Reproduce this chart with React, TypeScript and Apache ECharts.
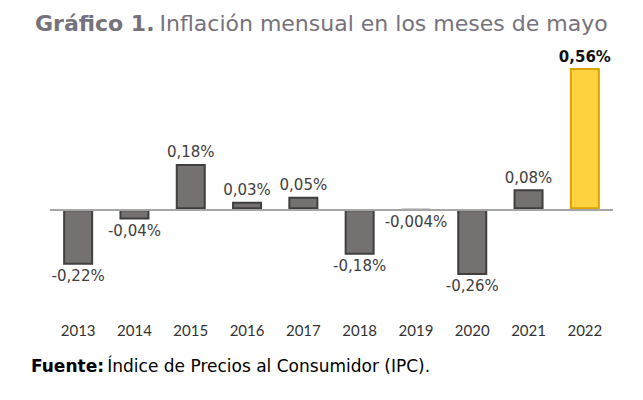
import React, { useEffect, useRef } from "react";
import * as echarts from "echarts";

const years = ["2013", "2014", "2015", "2016", "2017", "2018", "2019", "2020", "2021", "2022"];
const values = [-0.22, -0.04, 0.18, 0.03, 0.05, -0.18, -0.004, -0.26, 0.08, 0.56];
const highlightYear = "2022";

const FONT = "Lato, 'Noto Sans', sans-serif";
const WIDE = "'DejaVu Sans', sans-serif";

function fmt(v: number) {
  return String(v).replace(".", ",") + "%";
}

export default function App() {
  const ref = useRef<HTMLDivElement>(null);
  useEffect(() => {
    if (!ref.current) return;
    const chart = echarts.init(ref.current, undefined, { renderer: "svg" });
    const data = values.map((v, i) => {
      const hl = years[i] === highlightYear;
      return {
        value: v,
        itemStyle: hl
          ? { color: "#FFD23F", borderColor: "#D9A400", borderWidth: 2 }
          : { color: "#767171", borderColor: "#3F3F3F", borderWidth: 2 },
        label: {
          show: true,
          position: v >= 0 ? "top" : "bottom",
          distance: 4,
          formatter: () => fmt(v),
          fontFamily: WIDE,
          fontSize: 15,
          fontWeight: hl ? "bold" : "normal",
          color: hl ? "#111111" : "#404040",
        },
      };
    });
    chart.setOption({
      animation: false,
      backgroundColor: "#ffffff",
      title: {
        left: 30,
        top: 7,
        text: "{b|Gráfico 1.} {r|Inflación mensual en los meses de mayo}",
        textStyle: {
          rich: {
            b: { fontFamily: WIDE, fontSize: 22, fontWeight: "bold", color: "#76727C" },
            r: { fontFamily: WIDE, fontSize: 22, fontWeight: "normal", color: "#76727C" },
          },
        },
      },
      graphic: [
        {
          type: "text",
          left: 31,
          top: 357,
          style: {
            text: "{b|Fuente:} {r|Índice de Precios al Consumidor (IPC).}",
            rich: {
              b: { fontFamily: WIDE, fontSize: 17, fontWeight: "bold", color: "#76727C" },
              r: { fontFamily: WIDE, fontSize: 17, fontWeight: "normal", color: "#5F5B64" },
            },
          },
        },
      ],
      grid: { left: 50, right: 30, top: 58, bottom: 115 },
      xAxis: {
        type: "category",
        data: years,
        axisLine: { show: false, onZero: false },
        axisTick: { show: false },
        axisLabel: { margin: 37, fontFamily: FONT, fontSize: 15, color: "#333333" },
      },
      yAxis: {
        type: "value",
        min: -0.3,
        max: 0.6,
        show: false,
        splitLine: { show: false },
      },
      series: [
        {
          type: "bar",
          data,
          barWidth: 30,
          markLine: {
            silent: true,
            symbol: "none",
            label: { show: false },
            lineStyle: { color: "#A6A6A6", width: 2, type: "solid" },
            data: [{ yAxis: 0 }],
          },
        },
      ],
    });
    return () => chart.dispose();
  }, []);
  return <div ref={ref} style={{ width: 643, height: 400, position: "absolute", left: 0, top: 0 }} />;
}
